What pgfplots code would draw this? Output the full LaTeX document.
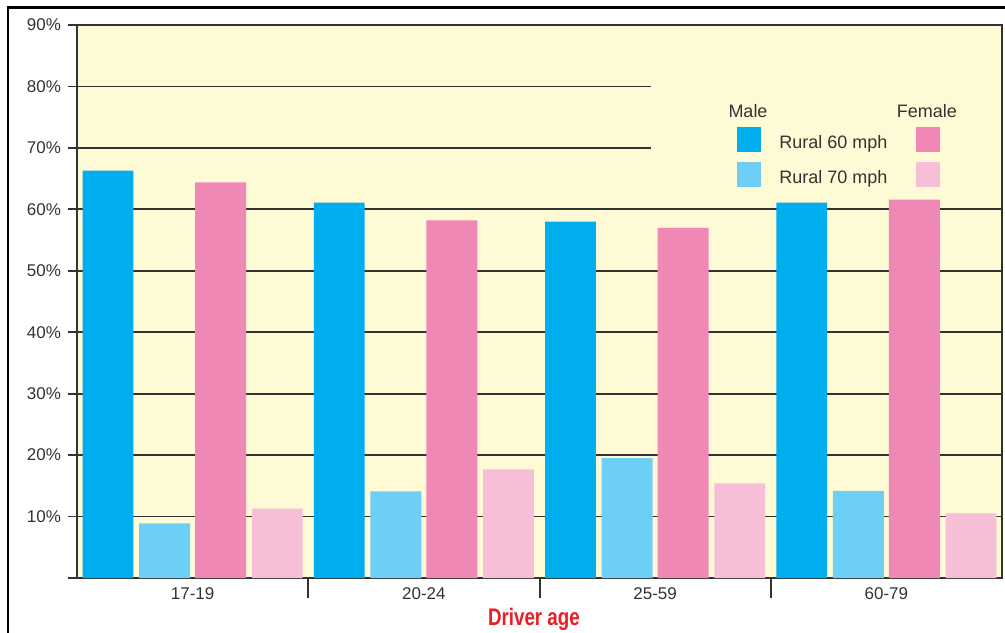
\documentclass[border=0pt]{standalone}
\usepackage{pgfplots}
\pgfplotsset{compat=1.18}
\usepackage{fontspec}
\setmainfont{Liberation Sans}
\newfontfamily\condfont[FakeStretch=0.78]{Liberation Sans}
\definecolor{bg}{HTML}{FFFAD6}
\definecolor{mA}{HTML}{00AEEF}
\definecolor{mB}{HTML}{6DCFF6}
\definecolor{fA}{HTML}{F088B6}
\definecolor{fB}{HTML}{F7BED8}
\definecolor{drv}{HTML}{ED1C24}
\definecolor{ax}{HTML}{333333}
\pgfplotsset{sq legend/.style={legend image code/.code={\fill[##1,draw=none] (0pt,-4.25pt) rectangle (12pt,8.25pt); \path (0pt,-8.25pt) (19pt,0pt);}}}
\begin{document}
\begin{tikzpicture}
\useasboundingbox (0,0) rectangle (502.5pt,-316pt);
\draw[black, line width=1.1pt] (4.1pt,-320pt) -- (4.1pt,-3.75pt) -- (510pt,-3.75pt);
\begin{axis}[
  at={(38.5pt,-289pt)}, anchor=south west,
  width=462.5pt, height=276.5pt, scale only axis,
  ybar, bar width=0.22,
  xmin=-0.5, xmax=3.5, ymin=0, ymax=90,
  enlargelimits=false,
  tick pos=left,
  ytick={0,10,...,90},
  yticklabels={,10\%,20\%,30\%,40\%,50\%,60\%,70\%,80\%,90\%},
  xtick={0,1,2,3},
  xticklabels={17-19,20-24,25-59,60-79},
  xtick style={draw=none},
  extra x ticks={0.5,1.5,2.5},
  extra x tick labels={},
  extra x tick style={major tick length=10pt, xtick style={draw=ax, line width=1pt}, grid=none, tick pos=left},
  ymajorgrids,
  grid style={ax, line width=0.9pt},
  tick align=outside,
  major tick length=4.5pt,
  ytick style={ax, line width=0.9pt},
  axis line style={ax, line width=0.9pt},
  axis background/.style={fill=bg},
  tick label style={font=\fontsize{8.5}{10}\selectfont, color=black!80},
  xticklabel style={yshift=3pt},
  xlabel={\condfont\bfseries Driver age},
  xlabel style={at={(axis description cs:0.494,0)}, anchor=center, yshift=-20.5pt, color=drv, font=\fontsize{12}{14}\selectfont},
  legend style={draw=none, fill=none, at={(rel axis cs:0.7135,0.8156)}, anchor=north west, inner sep=0pt, row sep=1pt, font=\fontsize{9}{10}\selectfont, text=black!80, /tikz/every even column/.append style={column sep=12.5pt}},
  legend columns=2,
  legend cell align=left,
]
\fill[bg] (axis cs:1.98,63) rectangle (axis cs:3.495,88.5);
\addplot[fill=mA, draw=none, bar shift=-0.366, sq legend] coordinates {(0,66.3) (1,61.1) (2,58.0) (3,61.1)};
\addlegendentry{Rural 60 mph}
\addplot[fill=fA, draw=none, bar shift=0.121, sq legend] coordinates {(0,64.4) (1,58.2) (2,57.0) (3,61.6)};
\addlegendentry{\mbox{}}
\addplot[fill=mB, draw=none, bar shift=-0.121, sq legend] coordinates {(0,8.9) (1,14.1) (2,19.5) (3,14.2)};
\addlegendentry{Rural 70 mph}
\addplot[fill=fB, draw=none, bar shift=0.366, sq legend] coordinates {(0,11.3) (1,17.7) (2,15.4) (3,10.5)};
\addlegendentry{\mbox{}}
\node[font=\fontsize{9}{10}\selectfont, text=black!80] at (rel axis cs:0.7254,0.8445) {Male};
\node[font=\fontsize{9}{10}\selectfont, text=black!80] at (rel axis cs:0.9189,0.8445) {Female};
\end{axis}
\end{tikzpicture}
\end{document}
